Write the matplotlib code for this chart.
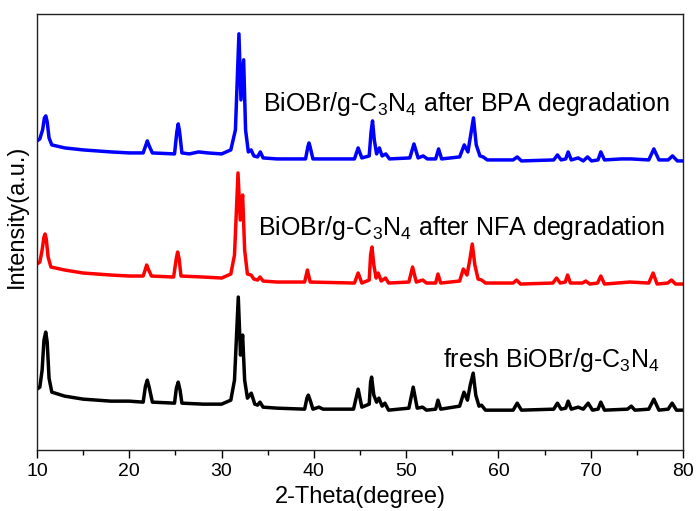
import matplotlib
matplotlib.use("Agg")
import matplotlib.pyplot as plt
from matplotlib.ticker import MultipleLocator

plt.rcParams["font.family"] = ["Liberation Sans", "DejaVu Sans"]
plt.rcParams["mathtext.fontset"] = "custom"
plt.rcParams["mathtext.rm"] = "Liberation Sans"
plt.rcParams["mathtext.it"] = "Liberation Sans"

# 2-theta (degree) and intensity (a.u., traces already stacked)
tt_bpa = [10.0, 10.3, 10.6, 10.8, 10.95, 11.1, 11.3, 11.6, 13, 15, 18, 20, 21.5, 21.8, 21.95,
          22.15, 22.5, 24.9, 25.15, 25.3, 25.45, 25.7, 26.5, 27.5, 28.5, 30, 31.0, 31.5, 31.88,
          32.1, 32.39, 32.6, 32.9, 33.2, 33.5, 33.9, 34.2, 34.5, 36, 39.1, 39.35, 39.47, 39.6,
          39.9, 44.4, 44.8, 45.2, 46.0, 46.2, 46.36, 46.55, 46.8, 47.1, 47.4, 47.8, 48.2, 50.4,
          50.85, 51.3, 51.85, 52.3, 53.2, 53.52, 53.85, 55.8, 56.3, 56.7, 57.0, 57.3, 57.6, 58.0,
          58.35, 58.8, 61.6, 62.04, 62.5, 66.0, 66.4, 66.8, 67.3, 67.56, 67.9, 68.65, 69.2, 69.66,
          70.1, 70.8, 71.1, 71.5, 73.35, 74.4, 76.3, 76.85, 77.4, 78.4, 78.87, 79.4, 80]
int_bpa = [309, 311, 320, 332, 334, 328, 312, 305, 302, 300, 298, 297, 297, 305, 309,
           304, 297, 296, 318, 326, 318, 297, 296, 298, 297, 296, 300, 320, 416,
           350, 390, 320, 298, 300, 294, 293, 298, 292, 291, 291, 303, 307, 303,
           291, 291, 302, 292, 294, 318, 329, 310, 296, 302, 294, 296, 291, 292,
           306, 292, 294, 291, 291, 301, 291, 293, 305, 298, 315, 332, 305, 294,
           293, 290, 290, 293, 289, 290, 295, 290, 291, 298, 290, 292, 289, 293,
           289, 290, 298, 290, 291, 291, 290, 301, 290, 290, 294, 289, 289]

tt_nfa = [10.0, 10.3, 10.55, 10.75, 10.87, 11.0, 11.2, 11.5, 13, 15, 18, 20, 21.5, 21.75, 21.88,
          22.05, 22.4, 24.8, 25.1, 25.24, 25.4, 25.6, 28, 30, 31.0, 31.4, 31.78, 32.02, 32.28,
          32.5, 32.8, 33.2, 33.5, 33.9, 34.17, 34.5, 36, 39.0, 39.3, 39.6, 44.4, 44.8, 45.2,
          46.0, 46.15, 46.3, 46.5, 46.75, 46.97, 47.3, 47.77, 48.1, 50.3, 50.7, 51.1, 51.8,
          52.2, 53.2, 53.45, 53.75, 55.8, 56.2, 56.6, 56.9, 57.17, 57.45, 57.8, 58.18, 58.6,
          61.6, 61.97, 62.4, 65.9, 66.3, 66.7, 67.25, 67.5, 67.8, 69.1, 69.48, 69.9, 70.75,
          71.1, 71.5, 74.25, 76.3, 76.77, 77.2, 78.35, 78.76, 79.2, 80]
int_nfa = [186, 188, 200, 213, 216, 211, 193, 183, 180, 177, 175, 174, 174, 181, 185,
           181, 174, 173, 192, 198, 191, 174, 173, 172, 176, 195, 277, 230, 255,
           200, 176, 175, 171, 170, 173, 169, 168, 168, 180, 168, 167, 177, 167,
           170, 195, 203, 185, 172, 177, 169, 172, 167, 168, 183, 168, 170,
           167, 167, 176, 167, 169, 181, 175, 190, 206, 185, 171, 170, 167,
           167, 170, 166, 167, 172, 167, 168, 175, 167, 167, 169, 166, 167,
           174, 166, 168, 167, 177, 166, 167, 170, 166, 166]

tt_fresh = [10.0, 10.3, 10.55, 10.75, 10.94, 11.1, 11.3, 11.6, 13, 15, 18, 20, 21.5, 21.75, 21.95,
            22.15, 22.5, 24.9, 25.1, 25.3, 25.5, 25.7, 28, 30, 31.0, 31.4, 31.81, 32.05, 32.28,
            32.5, 32.8, 33.22, 33.6, 33.9, 34.16, 34.5, 36, 39.0, 39.25, 39.4, 39.6, 39.9, 40.55,
            41, 44.3, 44.8, 45.2, 46.0, 46.15, 46.26, 46.5, 46.8, 47.05, 47.4, 47.7, 48.1, 50.3,
            50.77, 51.2, 51.79, 52.2, 53.2, 53.45, 53.75, 55.8, 56.27, 56.65, 56.95, 57.27, 57.55,
            57.9, 58.17, 58.6, 61.6, 62.04, 62.5, 66.0, 66.4, 66.8, 67.3, 67.56, 67.9, 68.65, 69.2,
            69.73, 70.2, 70.8, 71.1, 71.5, 74.0, 74.4, 74.8, 76.3, 76.85, 77.4, 78.4, 78.83, 79.3, 80]
int_fresh = [61, 63, 80, 110, 118, 108, 72, 58, 54, 51, 49, 49, 48, 64, 70,
             63, 48, 47, 62, 68, 60, 47, 46, 46, 50, 70, 153, 95, 115,
             70, 52, 57, 46, 45, 48, 43, 42, 41, 52, 55, 50, 41, 43,
             41, 41, 61, 43, 46, 68, 73, 55, 48, 52, 44, 47, 40, 42,
             63, 42, 43, 40, 41, 50, 41, 44, 58, 50, 65, 77, 55,
             44, 45, 40, 40, 47, 40, 41, 47, 41, 42, 49, 41, 43, 41,
             47, 40, 41, 48, 40, 41, 44, 40, 41, 51, 40, 41, 47, 40, 40]

labels = [r"BiOBr/g-C$_3$N$_4$ after BPA degradation",
          r"BiOBr/g-C$_3$N$_4$ after NFA degradation",
          r"fresh BiOBr/g-C$_3$N$_4$"]
label_pos = [(34.5, 339), (33.9, 215), (54.0, 83)]

fig = plt.figure(figsize=(6.99, 5.11), dpi=100)
ax = fig.add_axes([0.053, 0.119, 0.924, 0.854])

ax.plot(tt_bpa, int_bpa, color="#0000FF", lw=2.5)
ax.plot(tt_nfa, int_nfa, color="#FF0000", lw=2.5)
ax.plot(tt_fresh, int_fresh, color="black", lw=2.5)

for txt, (lx, ly) in zip(labels, label_pos):
    ax.text(lx, ly, txt, fontsize=18, ha="left", va="baseline")

ax.set_xlim(10, 80)
ax.set_ylim(0, 436)
ax.xaxis.set_major_locator(MultipleLocator(10))
ax.xaxis.set_minor_locator(MultipleLocator(5))
ax.tick_params(axis="x", which="major", direction="out", length=6, width=1, labelsize=14)
ax.tick_params(axis="x", which="minor", direction="out", length=3.5, width=1)
ax.set_yticks([])
for sp in ax.spines.values():
    sp.set_linewidth(1.0)
    sp.set_color("#222222")

ax.set_xlabel("2-Theta(degree)", fontsize=17)
ax.xaxis.set_label_coords(0.5, -0.082)
ax.set_ylabel("Intensity(a.u.)", fontsize=17)
ax.yaxis.set_label_coords(-0.014, 0.537)

fig.savefig("out.png", dpi=100)
